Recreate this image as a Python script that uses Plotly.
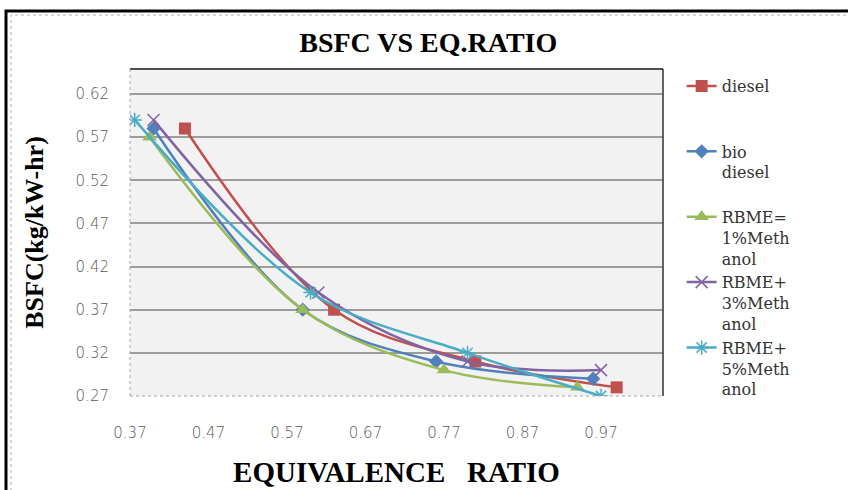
import plotly.graph_objects as go

# Equivalence ratio (x) and BSFC in kg/kW-hr (y) for each fuel blend
diesel_x = [0.44, 0.63, 0.81, 0.99]
diesel_y = [0.58, 0.37, 0.31, 0.28]

bio_x = [0.40, 0.59, 0.76, 0.96]
bio_y = [0.58, 0.37, 0.31, 0.29]

rbme1_x = [0.395, 0.59, 0.77, 0.94]
rbme1_y = [0.57, 0.37, 0.30, 0.28]

rbme3_x = [0.40, 0.61, 0.80, 0.97]
rbme3_y = [0.59, 0.39, 0.31, 0.30]

rbme5_x = [0.376, 0.60, 0.80, 0.97]
rbme5_y = [0.59, 0.39, 0.32, 0.27]

series_names = [
    "diesel<br>&nbsp;<br>&nbsp;",
    "bio<br>diesel<br>&nbsp;",
    "RBME=<br>1%Meth<br>anol",
    "RBME+<br>3%Meth<br>anol",
    "RBME+<br>5%Meth<br>anol",
]

x_ticks = [0.37, 0.47, 0.57, 0.67, 0.77, 0.87, 0.97]
y_ticks = [0.27, 0.32, 0.37, 0.42, 0.47, 0.52, 0.57, 0.62]

styles = [
    dict(color="#C0504D", symbol="square", size=12, lw=0),
    dict(color="#4F81BD", symbol="diamond", size=11, lw=0),
    dict(color="#9BBB59", symbol="triangle-up", size=13, lw=0),
    dict(color="#8064A2", symbol="x-thin-open", size=12, lw=1.5),
    dict(color="#4BACC6", symbol="asterisk-open", size=12, lw=1.5),
]

data = [
    (diesel_x, diesel_y),
    (bio_x, bio_y),
    (rbme1_x, rbme1_y),
    (rbme3_x, rbme3_y),
    (rbme5_x, rbme5_y),
]

fig = go.Figure()
for (xs, ys), name, st in zip(data, series_names, styles):
    fig.add_trace(go.Scatter(
        x=xs, y=ys, name=name, mode="lines+markers",
        line=dict(color=st["color"], width=2.5, shape="spline", smoothing=1),
        marker=dict(symbol=st["symbol"], size=st["size"], color=st["color"],
                    line=dict(color=st["color"], width=st["lw"])),
    ))

tick_font = dict(family="DejaVu Sans", size=15, color="#5a5a5a", weight=200)
title_font = dict(family="Liberation Serif", color="black", weight="bold")

fig.update_layout(
    width=848, height=490,
    margin=dict(l=130, r=185, t=69, b=94),
    paper_bgcolor="white",
    plot_bgcolor="#f2f2f2",
    title=dict(text="BSFC VS EQ.RATIO", x=0.505, xanchor="center",
               y=0.913, yanchor="middle",
               font=dict(size=28, **title_font)),
    xaxis=dict(
        range=[0.37, 1.049], tickvals=x_ticks, ticktext=[f"{v:.2f}" for v in x_ticks],
        showgrid=False, zeroline=False, showline=False, ticks="",
        ticklabelstandoff=26, tickfont=tick_font, automargin=False,
        title=dict(text="EQUIVALENCE&nbsp;&nbsp; RATIO", standoff=20,
                   font=dict(size=29, **title_font)),
    ),
    yaxis=dict(
        range=[0.27, 0.649], tickvals=y_ticks, ticktext=[f"{v:.2f}" for v in y_ticks],
        showgrid=True, gridcolor="#9c9c9c", gridwidth=2,
        zeroline=False, showline=False, ticks="",
        ticklabelstandoff=20, tickfont=tick_font, automargin=False,
        title=dict(text="BSFC(kg/kW-hr)", standoff=24,
                   font=dict(size=26, **title_font)),
    ),
    legend=dict(
        x=1.035, xanchor="left", y=1.0, yanchor="top",
        font=dict(family="DejaVu Serif", size=16, color="#333333"),
        valign="top", tracegroupgap=0, itemwidth=30,
        bgcolor="rgba(0,0,0,0)", maxheight=420,
    ),
    showlegend=True,
)

# plot-area frame: solid top/right, dotted left/bottom
fig.add_shape(type="line", xref="x domain", yref="y domain", x0=0, x1=1, y0=1, y1=1,
              line=dict(color="#505050", width=2))
fig.add_shape(type="line", xref="x domain", yref="y domain", x0=1, x1=1, y0=0, y1=1,
              line=dict(color="#303030", width=1.5))
fig.add_shape(type="line", xref="x domain", yref="y domain", x0=0, x1=0, y0=0, y1=1,
              line=dict(color="#a8a8a8", width=1, dash="dot"))
fig.add_shape(type="line", xref="x domain", yref="y domain", x0=0, x1=1, y0=0, y1=0,
              line=dict(color="#a8a8a8", width=1, dash="dot"))

# outer chart border: heavy black edge with a thin grey inner edge
fig.add_shape(type="rect", xref="paper", yref="paper",
              x0=-124 / 533, x1=(852 - 130) / 533,
              y0=-120 / 327, y1=(396 - 11) / 327,
              line=dict(color="black", width=3), layer="below")
fig.add_shape(type="rect", xref="paper", yref="paper",
              x0=-119 / 533, x1=(856 - 130) / 533,
              y0=-120 / 327, y1=(396 - 15) / 327,
              line=dict(color="#b0b0b0", width=1, dash="dot"), layer="below")

fig.write_html("out.html")
